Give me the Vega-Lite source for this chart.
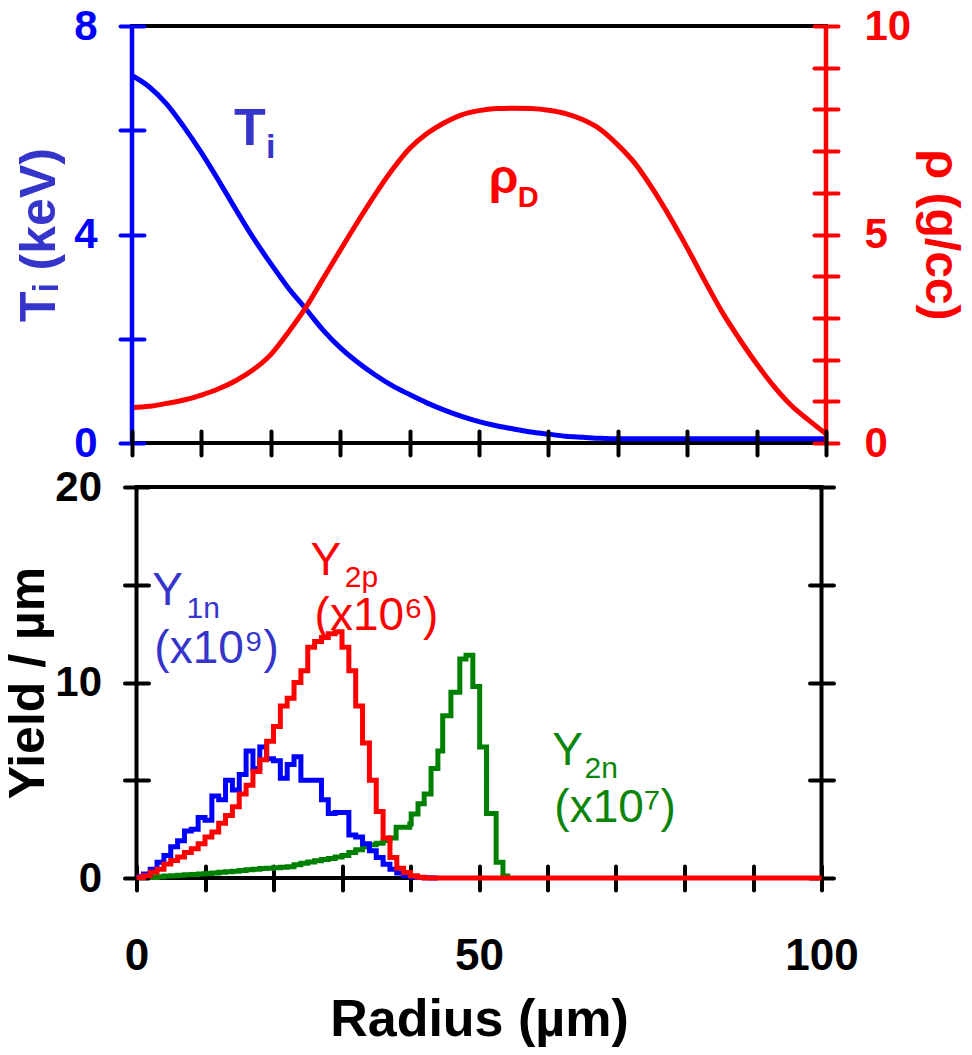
{
  "$schema": "https://vega.github.io/schema/vega-lite/v6.json",
  "autosize": {"type": "pad"},
  "padding": {"left": 1, "top": 3, "right": 8, "bottom": 0},
  "background": "white",
  "config": {
    "view": {"stroke": "black", "strokeWidth": 4},
    "axis": {"grid": false, "labelFont": "Liberation Sans, Arial", "titleFont": "Liberation Sans, Arial, DejaVu Sans", "labelFlush": false, "labelOverlap": false},
    "text": {"font": "Liberation Sans, Arial, DejaVu Sans"}
  },
  "datasets": {
    "top": [
      {"r": 0, "T": 7.05, "rho": 0.85}, {"r": 2.5, "T": 6.83, "rho": 0.88}, {"r": 5, "T": 6.5, "rho": 0.95},
      {"r": 7.5, "T": 6.06, "rho": 1.03}, {"r": 10, "T": 5.57, "rho": 1.15}, {"r": 12.5, "T": 5.03, "rho": 1.3},
      {"r": 15, "T": 4.47, "rho": 1.5}, {"r": 17.5, "T": 3.93, "rho": 1.76}, {"r": 20, "T": 3.44, "rho": 2.12},
      {"r": 22.5, "T": 2.98, "rho": 2.65}, {"r": 25, "T": 2.58, "rho": 3.24}, {"r": 27.5, "T": 2.17, "rho": 3.93},
      {"r": 30, "T": 1.83, "rho": 4.62}, {"r": 32.5, "T": 1.55, "rho": 5.3}, {"r": 35, "T": 1.31, "rho": 5.95},
      {"r": 37.5, "T": 1.1, "rho": 6.55}, {"r": 40, "T": 0.93, "rho": 7.06}, {"r": 42.5, "T": 0.77, "rho": 7.42},
      {"r": 45, "T": 0.63, "rho": 7.68}, {"r": 47.5, "T": 0.51, "rho": 7.87}, {"r": 50, "T": 0.41, "rho": 7.97},
      {"r": 52.5, "T": 0.33, "rho": 8.02}, {"r": 55, "T": 0.27, "rho": 8.03}, {"r": 57.5, "T": 0.21, "rho": 8.02},
      {"r": 60, "T": 0.17, "rho": 7.98}, {"r": 62.5, "T": 0.13, "rho": 7.9}, {"r": 65, "T": 0.11, "rho": 7.75},
      {"r": 67.5, "T": 0.09, "rho": 7.52}, {"r": 70, "T": 0.08, "rho": 7.15}, {"r": 72.5, "T": 0.08, "rho": 6.7},
      {"r": 75, "T": 0.08, "rho": 6.1}, {"r": 77.5, "T": 0.08, "rho": 5.42}, {"r": 80, "T": 0.08, "rho": 4.68},
      {"r": 82.5, "T": 0.08, "rho": 3.9}, {"r": 85, "T": 0.08, "rho": 3.15}, {"r": 87.5, "T": 0.08, "rho": 2.5},
      {"r": 90, "T": 0.08, "rho": 1.9}, {"r": 92.5, "T": 0.08, "rho": 1.36}, {"r": 95, "T": 0.08, "rho": 0.9},
      {"r": 97.5, "T": 0.08, "rho": 0.55}, {"r": 100, "T": 0.08, "rho": 0.22}
    ],
    "blue": [
      {"r": 0, "v": 0.07}, {"r": 1, "v": 0.2}, {"r": 2, "v": 0.45}, {"r": 3, "v": 0.8}, {"r": 4, "v": 1.15},
      {"r": 5, "v": 1.6}, {"r": 6, "v": 1.9}, {"r": 7, "v": 2.4}, {"r": 8, "v": 2.5}, {"r": 9, "v": 3.1},
      {"r": 10, "v": 2.95}, {"r": 11, "v": 4.2}, {"r": 12, "v": 4.0}, {"r": 13, "v": 5.0}, {"r": 14, "v": 4.5},
      {"r": 15, "v": 5.3}, {"r": 16, "v": 6.5}, {"r": 17, "v": 5.6}, {"r": 18, "v": 6.7}, {"r": 19, "v": 6.1},
      {"r": 20, "v": 6.0}, {"r": 21, "v": 5.1}, {"r": 22, "v": 5.8}, {"r": 23, "v": 6.2}, {"r": 24, "v": 5.0},
      {"r": 25, "v": 5.0}, {"r": 26, "v": 5.0}, {"r": 27, "v": 4.0}, {"r": 28, "v": 3.3}, {"r": 29, "v": 3.35},
      {"r": 30, "v": 3.35}, {"r": 31, "v": 2.2}, {"r": 32, "v": 2.1}, {"r": 33, "v": 1.75}, {"r": 34, "v": 1.4},
      {"r": 35, "v": 1.05}, {"r": 36, "v": 0.7}, {"r": 37, "v": 0.45}, {"r": 38, "v": 0.25}, {"r": 39, "v": 0.12},
      {"r": 40, "v": 0.06}, {"r": 41, "v": 0.03}, {"r": 42, "v": 0.01}, {"r": 43, "v": 0}, {"r": 44, "v": 0}
    ],
    "red": [
      {"r": 0, "v": 0.02}, {"r": 1, "v": 0.12}, {"r": 2, "v": 0.3}, {"r": 3, "v": 0.45}, {"r": 4, "v": 0.72},
      {"r": 5, "v": 0.9}, {"r": 6, "v": 1.07}, {"r": 7, "v": 1.3}, {"r": 8, "v": 1.5}, {"r": 9, "v": 1.75},
      {"r": 10, "v": 2.1}, {"r": 11, "v": 2.35}, {"r": 12, "v": 2.8}, {"r": 13, "v": 3.2}, {"r": 14, "v": 3.65},
      {"r": 15, "v": 4.3}, {"r": 16, "v": 4.75}, {"r": 17, "v": 5.45}, {"r": 18, "v": 6.05}, {"r": 19, "v": 7.0},
      {"r": 20, "v": 7.75}, {"r": 21, "v": 8.8}, {"r": 22, "v": 9.2}, {"r": 23, "v": 10.0}, {"r": 24, "v": 10.6},
      {"r": 25, "v": 11.8}, {"r": 26, "v": 12.1}, {"r": 27, "v": 12.3}, {"r": 28, "v": 12.5}, {"r": 29, "v": 12.6},
      {"r": 30, "v": 11.8}, {"r": 31, "v": 10.6}, {"r": 32, "v": 8.8}, {"r": 33, "v": 6.9}, {"r": 34, "v": 5.0},
      {"r": 35, "v": 3.4}, {"r": 36, "v": 2.05}, {"r": 37, "v": 1.05}, {"r": 38, "v": 0.5}, {"r": 39, "v": 0.28},
      {"r": 40, "v": 0.12}, {"r": 41, "v": 0.04}, {"r": 42, "v": 0}, {"r": 100, "v": 0}
    ],
    "green": [
      {"r": 2, "v": 0.02}, {"r": 3, "v": 0.06}, {"r": 4, "v": 0.1}, {"r": 5, "v": 0.12}, {"r": 6, "v": 0.14},
      {"r": 7, "v": 0.16}, {"r": 8, "v": 0.18}, {"r": 9, "v": 0.21}, {"r": 10, "v": 0.23}, {"r": 11, "v": 0.26},
      {"r": 12, "v": 0.29}, {"r": 13, "v": 0.32}, {"r": 14, "v": 0.35}, {"r": 15, "v": 0.38}, {"r": 16, "v": 0.42},
      {"r": 17, "v": 0.45}, {"r": 18, "v": 0.48}, {"r": 19, "v": 0.5}, {"r": 20, "v": 0.52}, {"r": 21, "v": 0.55},
      {"r": 22, "v": 0.58}, {"r": 23, "v": 0.68}, {"r": 24, "v": 0.75}, {"r": 25, "v": 0.82}, {"r": 26, "v": 0.88},
      {"r": 27, "v": 0.95}, {"r": 28, "v": 1.0}, {"r": 29, "v": 1.08}, {"r": 30, "v": 1.15}, {"r": 31, "v": 1.3},
      {"r": 32, "v": 1.45}, {"r": 33, "v": 1.6}, {"r": 34, "v": 1.7}, {"r": 35, "v": 1.78}, {"r": 36, "v": 1.9},
      {"r": 37, "v": 2.05}, {"r": 37.9, "v": 2.6}, {"r": 39.9, "v": 2.76}, {"r": 40.1, "v": 3.28}, {"r": 41.1, "v": 3.8},
      {"r": 42.0, "v": 4.3}, {"r": 43.0, "v": 5.6}, {"r": 44.0, "v": 6.5}, {"r": 44.7, "v": 8.3}, {"r": 45.9, "v": 9.5},
      {"r": 47.2, "v": 11.2}, {"r": 48.1, "v": 11.4}, {"r": 49.1, "v": 9.8}, {"r": 50.1, "v": 6.7}, {"r": 51.1, "v": 3.3},
      {"r": 52.5, "v": 0.8}, {"r": 53.5, "v": 0.1}, {"r": 54.2, "v": 0}
    ]
  },
  "vconcat": [
    {
      "width": 694,
      "height": 417,
      "layer": [
        {
          "data": {"name": "top"},
          "mark": {"type": "line", "color": "#0000ff", "strokeWidth": 5, "interpolate": "monotone"},
          "encoding": {
            "x": {"field": "r", "type": "quantitative", "scale": {"domain": [0, 100], "nice": false},
              "axis": {"orient": "bottom", "values": [0, 10, 20, 30, 40, 50, 60, 70, 80, 90, 100], "labels": false, "domain": false,
                "offset": -12, "tickSize": 24, "tickWidth": 4, "tickColor": "black", "tickCap": "round", "title": null, "zindex": 1}},
            "y": {"field": "T", "type": "quantitative", "scale": {"domain": [0, 8], "nice": false},
              "axis": {"orient": "left", "values": [0, 2, 4, 6, 8], "labelExpr": "datum.value % 4 === 0 ? datum.label : ''",
                "domain": false, "offset": -12, "tickSize": 24, "tickWidth": 4, "tickColor": "#0000ff", "tickCap": "round",
                "labelColor": "#0000ff", "labelFontSize": 42, "labelFontWeight": "bold", "labelPadding": 23,
                "title": "Tᵢ (keV)", "titleColor": "#3535cc", "titleFontSize": 50, "titleFontWeight": "bold", "titlePadding": 9}}
          }
        },
        {
          "data": {"name": "top"},
          "mark": {"type": "line", "color": "#ff0000", "strokeWidth": 5, "interpolate": "monotone"},
          "encoding": {
            "x": {"field": "r", "type": "quantitative", "scale": {"domain": [0, 100], "nice": false}},
            "y": {"field": "rho", "type": "quantitative", "scale": {"domain": [0, 10], "nice": false},
              "axis": {"orient": "right", "values": [0, 1, 2, 3, 4, 5, 6, 7, 8, 9, 10], "labelExpr": "datum.value % 5 === 0 ? datum.label : ''",
                "domain": false, "offset": -12, "tickSize": 24, "tickWidth": 4, "tickColor": "#ff0000", "tickCap": "round",
                "labelColor": "#ff0000", "labelFontSize": 42, "labelFontWeight": "bold", "labelPadding": 26,
                "title": "ρ (g/cc)", "titleColor": "#ff0000", "titleFontSize": 48, "titleFontWeight": "bold", "titlePadding": 5}}
          }
        },
        {
          "data": {"values": [{}]},
          "mark": {"type": "rule", "color": "#0000ff", "strokeWidth": 4.5},
          "encoding": {"x": {"datum": 0, "scale": {"domain": [0, 100], "nice": false}}}
        },
        {
          "data": {"values": [{}]},
          "mark": {"type": "rule", "color": "#ff0000", "strokeWidth": 4.5},
          "encoding": {"x": {"datum": 100, "scale": {"domain": [0, 100], "nice": false}}}
        },
        {
          "data": {"values": [{}]},
          "mark": {"type": "text", "color": "#3535cc", "fontSize": 52, "fontWeight": "bold", "align": "left", "baseline": "alphabetic"},
          "encoding": {"x": {"datum": 14.7, "scale": {"domain": [0, 100], "nice": false}}, "y": {"datum": 5.72, "scale": {"domain": [0, 8], "nice": false}, "axis": null}, "text": {"value": "T"}}
        },
        {
          "data": {"values": [{}]},
          "mark": {"type": "text", "color": "#3535cc", "fontSize": 34, "fontWeight": "bold", "align": "left", "baseline": "alphabetic"},
          "encoding": {"x": {"datum": 19.3, "scale": {"domain": [0, 100], "nice": false}}, "y": {"datum": 5.47, "scale": {"domain": [0, 8], "nice": false}, "axis": null}, "text": {"value": "i"}}
        },
        {
          "data": {"values": [{}]},
          "mark": {"type": "text", "color": "#ff0000", "fontSize": 48, "fontWeight": "bold", "align": "left", "baseline": "alphabetic"},
          "encoding": {"x": {"datum": 51.4, "scale": {"domain": [0, 100], "nice": false}}, "y": {"datum": 4.8, "scale": {"domain": [0, 8], "nice": false}, "axis": null}, "text": {"value": "ρ"}}
        },
        {
          "data": {"values": [{}]},
          "mark": {"type": "text", "color": "#ff0000", "fontSize": 29, "fontWeight": "bold", "align": "left", "baseline": "alphabetic"},
          "encoding": {"x": {"datum": 55.6, "scale": {"domain": [0, 100], "nice": false}}, "y": {"datum": 4.53, "scale": {"domain": [0, 8], "nice": false}, "axis": null}, "text": {"value": "D"}}
        }
      ],
      "resolve": {"scale": {"y": "independent"}}
    },
    {
      "width": 685,
      "height": 391,
      "layer": [
        {
          "data": {"name": "green"},
          "mark": {"type": "line", "color": "#008000", "strokeWidth": 5, "interpolate": "step-after"},
          "encoding": {
            "x": {"field": "r", "type": "quantitative", "scale": {"domain": [0, 100], "nice": false},
              "axis": {"orient": "bottom", "values": [0, 10, 20, 30, 40, 50, 60, 70, 80, 90, 100], "labelExpr": "datum.value % 50 === 0 ? datum.label : ''",
                "domain": false, "offset": -12, "tickSize": 24, "tickWidth": 4, "tickColor": "black", "tickCap": "round",
                "labelColor": "black", "labelFontSize": 44, "labelFontWeight": "bold", "labelPadding": 44,
                "title": "Radius (µm)", "titleColor": "black", "titleFontSize": 52, "titleFontWeight": "bold", "titlePadding": 16}},
            "y": {"field": "v", "type": "quantitative", "scale": {"domain": [0, 20], "nice": false},
              "axis": {"orient": "left", "values": [0, 5, 10, 15, 20], "labelExpr": "datum.value % 10 === 0 ? datum.label : ''",
                "domain": false, "offset": -12, "tickSize": 24, "tickWidth": 4, "tickColor": "black", "tickCap": "round",
                "labelColor": "black", "labelFontSize": 42, "labelFontWeight": "bold", "labelPadding": 23,
                "title": "Yield / µm", "titleColor": "black", "titleFontSize": 50, "titleFontWeight": "bold", "titlePadding": 1}}
          }
        },
        {
          "data": {"name": "blue"},
          "mark": {"type": "line", "color": "#0000ff", "strokeWidth": 5, "interpolate": "step-after"},
          "encoding": {
            "x": {"field": "r", "type": "quantitative", "scale": {"domain": [0, 100], "nice": false}},
            "y": {"field": "v", "type": "quantitative", "scale": {"domain": [0, 20], "nice": false}, "axis": null}
          }
        },
        {
          "data": {"name": "red"},
          "mark": {"type": "line", "color": "#ff0000", "strokeWidth": 5, "interpolate": "step-after"},
          "encoding": {
            "x": {"field": "r", "type": "quantitative", "scale": {"domain": [0, 100], "nice": false}},
            "y": {"field": "v", "type": "quantitative", "scale": {"domain": [0, 20], "nice": false},
              "axis": {"orient": "right", "values": [0, 5, 10, 15, 20], "labels": false, "domain": false, "offset": -12,
                "tickSize": 24, "tickWidth": 4, "tickColor": "black", "tickCap": "round", "title": null}}
          }
        },
        {
          "data": {"values": [{}]},
          "mark": {"type": "text", "color": "#3535cc", "fontSize": 46, "align": "left", "baseline": "alphabetic"},
          "encoding": {"x": {"datum": 2.3, "scale": {"domain": [0, 100], "nice": false}}, "y": {"datum": 13.96, "scale": {"domain": [0, 20], "nice": false}, "axis": null}, "text": {"value": "Y"}}
        },
        {
          "data": {"values": [{}]},
          "mark": {"type": "text", "color": "#3535cc", "fontSize": 30, "align": "left", "baseline": "alphabetic"},
          "encoding": {"x": {"datum": 7.3, "scale": {"domain": [0, 100], "nice": false}}, "y": {"datum": 13.3, "scale": {"domain": [0, 20], "nice": false}, "axis": null}, "text": {"value": "1n"}}
        },
        {
          "data": {"values": [{}]},
          "mark": {"type": "text", "color": "#3535cc", "fontSize": 46, "align": "left", "baseline": "alphabetic"},
          "encoding": {"x": {"datum": 2.6, "scale": {"domain": [0, 100], "nice": false}}, "y": {"datum": 11.0, "scale": {"domain": [0, 20], "nice": false}, "axis": null}, "text": {"value": "(x10⁹)"}}
        },
        {
          "data": {"values": [{}]},
          "mark": {"type": "text", "color": "#ff0000", "fontSize": 46, "align": "left", "baseline": "alphabetic"},
          "encoding": {"x": {"datum": 25.4, "scale": {"domain": [0, 100], "nice": false}}, "y": {"datum": 15.5, "scale": {"domain": [0, 20], "nice": false}, "axis": null}, "text": {"value": "Y"}}
        },
        {
          "data": {"values": [{}]},
          "mark": {"type": "text", "color": "#ff0000", "fontSize": 30, "align": "left", "baseline": "alphabetic"},
          "encoding": {"x": {"datum": 30.4, "scale": {"domain": [0, 100], "nice": false}}, "y": {"datum": 14.9, "scale": {"domain": [0, 20], "nice": false}, "axis": null}, "text": {"value": "2p"}}
        },
        {
          "data": {"values": [{}]},
          "mark": {"type": "text", "color": "#ff0000", "fontSize": 46, "align": "left", "baseline": "alphabetic"},
          "encoding": {"x": {"datum": 26.0, "scale": {"domain": [0, 100], "nice": false}}, "y": {"datum": 12.7, "scale": {"domain": [0, 20], "nice": false}, "axis": null}, "text": {"value": "(x10⁶)"}}
        },
        {
          "data": {"values": [{}]},
          "mark": {"type": "text", "color": "#0a850a", "fontSize": 46, "align": "left", "baseline": "alphabetic"},
          "encoding": {"x": {"datum": 60.7, "scale": {"domain": [0, 100], "nice": false}}, "y": {"datum": 5.78, "scale": {"domain": [0, 20], "nice": false}, "axis": null}, "text": {"value": "Y"}}
        },
        {
          "data": {"values": [{}]},
          "mark": {"type": "text", "color": "#0a850a", "fontSize": 30, "align": "left", "baseline": "alphabetic"},
          "encoding": {"x": {"datum": 65.4, "scale": {"domain": [0, 100], "nice": false}}, "y": {"datum": 5.12, "scale": {"domain": [0, 20], "nice": false}, "axis": null}, "text": {"value": "2n"}}
        },
        {
          "data": {"values": [{}]},
          "mark": {"type": "text", "color": "#0a850a", "fontSize": 46, "align": "left", "baseline": "alphabetic"},
          "encoding": {"x": {"datum": 61.0, "scale": {"domain": [0, 100], "nice": false}}, "y": {"datum": 2.86, "scale": {"domain": [0, 20], "nice": false}, "axis": null}, "text": {"value": "(x10⁷)"}}
        }
      ],
      "resolve": {"scale": {"y": "independent"}}
    }
  ],
  "spacing": 44,
  "bounds": "flush",
  "center": true
}
